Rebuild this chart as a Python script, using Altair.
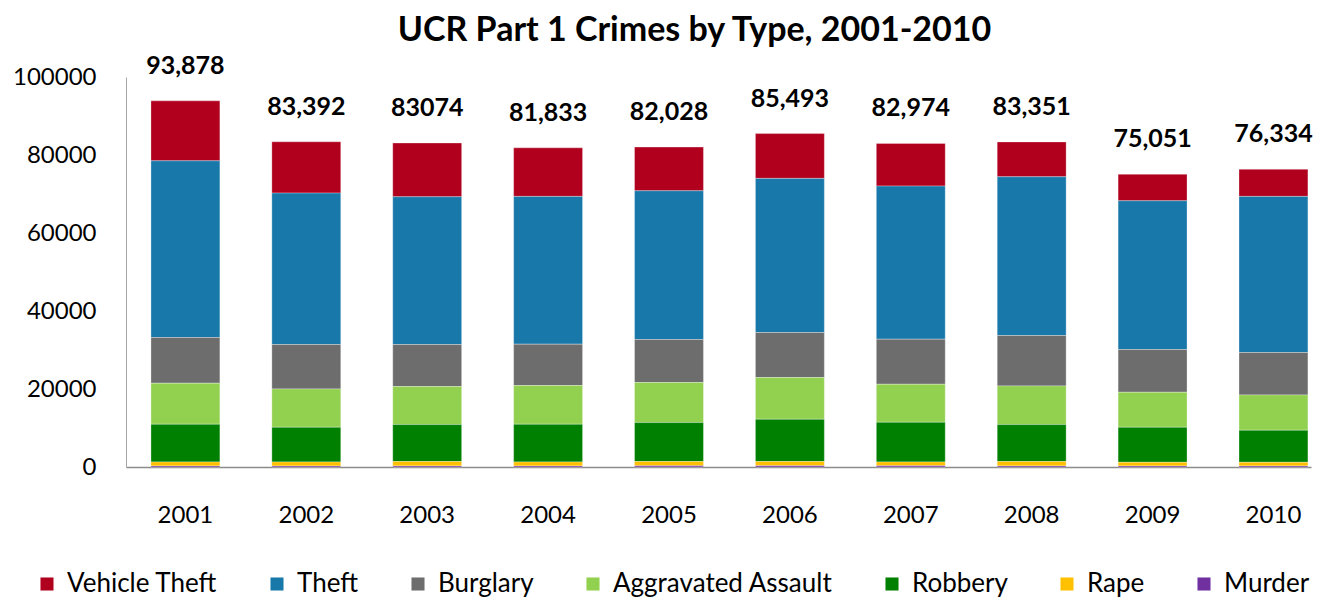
import altair as alt
import pandas as pd

years = ["2001", "2002", "2003", "2004", "2005", "2006", "2007", "2008", "2009", "2010"]

crime_types = ["Vehicle Theft", "Theft", "Burglary", "Aggravated Assault", "Robbery", "Rape", "Murder"]
crime_colors = ["#B0001E", "#1878AA", "#6D6D6D", "#92D050", "#008000", "#FFC000", "#7030A0"]

vehicle_theft = [15380, 13160, 13790, 12440, 11210, 11490, 10940, 8930, 6790, 6940]
theft = [45300, 38820, 37870, 37900, 38130, 39510, 39260, 40700, 38130, 40030]
burglary = [11720, 11390, 10780, 10600, 11030, 11550, 11550, 12930, 10960, 10880]
aggravated_assault = [10520, 9830, 9750, 9930, 10270, 10700, 9750, 9910, 8980, 9060]
robbery = [9660, 8890, 9480, 9660, 9990, 10840, 10170, 9480, 8990, 8220]
rape = [1040, 1050, 1120, 1030, 1110, 1070, 1000, 1120, 930, 940]
murder = [260, 250, 280, 270, 290, 330, 300, 280, 270, 260]

total_labels = ["93,878", "83,392", "83074", "81,833", "82,028", "85,493", "82,974", "83,351", "75,051", "76,334"]

series = [vehicle_theft, theft, burglary, aggravated_assault, robbery, rape, murder]

rows = []
for i, yr in enumerate(years):
    for k, (name, vals) in enumerate(zip(crime_types, series)):
        rows.append({"year": yr, "crime": name, "count": vals[i], "stack_order": k})
df = pd.DataFrame(rows)

totals = pd.DataFrame({
    "year": years,
    "total": [sum(s[i] for s in series) for i in range(len(years))],
    "label": total_labels,
})

FONT = "Lato"

x_enc = alt.X(
    "year:N",
    scale=alt.Scale(paddingInner=0.43, paddingOuter=0.116, align=0.89),
    axis=alt.Axis(
        title=None, labelAngle=0, ticks=False, labelPadding=36,
        domainColor="#8C8C8C", domainWidth=1.5,
        labelFont=FONT, labelFontSize=24, labelColor="#000000",
    ),
)

bars = alt.Chart(df).mark_bar(stroke="#FFFFFF", strokeWidth=0.6, strokeOpacity=0.5).encode(
    x=x_enc,
    y=alt.Y(
        "count:Q", stack="zero",
        scale=alt.Scale(domain=[0, 100000], nice=False),
        axis=alt.Axis(
            title=None, values=list(range(0, 100001, 10000)), format="d",
            grid=False, ticks=False, labelPadding=30, labelOverlap=False,
            domainColor="#A6A6A6", domainWidth=1,
            labelFont=FONT, labelFontSize=24, labelColor="#000000",
        ),
    ),
    color=alt.Color(
        "crime:N",
        scale=alt.Scale(domain=crime_types, range=crime_colors),
        legend=alt.Legend(
            title=None, orient="none", direction="horizontal",
            legendX=-92, legendY=494,
            symbolType="square", symbolSize=170, symbolStrokeWidth=0,
            labelFont=FONT, labelFontSize=26, labelColor="#000000",
            labelLimit=0, labelOffset=7, columnPadding=46, padding=0,
        ),
    ),
    order=alt.Order("stack_order:Q", sort="descending"),
)

labels = alt.Chart(totals).mark_text(
    font=FONT, fontSize=25, fontWeight="bold", color="#000000", baseline="middle", dy=-35
).encode(
    x=alt.X("year:N"),
    y=alt.Y("total:Q"),
    text="label:N",
)

chart = alt.layer(bars, labels).properties(
    width=1185,
    height=390,
    title=alt.TitleParams(
        "UCR Part 1 Crimes by Type, 2001-2010",
        font=FONT, fontSize=34, fontWeight="bold", color="#000000",
        anchor="middle", offset=6, dx=-24,
    ),
    padding={"left": 4, "top": 5, "right": 0, "bottom": 0},
).configure_view(stroke=None)

chart.save("out.html", embed_options={"renderer": "svg", "actions": False})
